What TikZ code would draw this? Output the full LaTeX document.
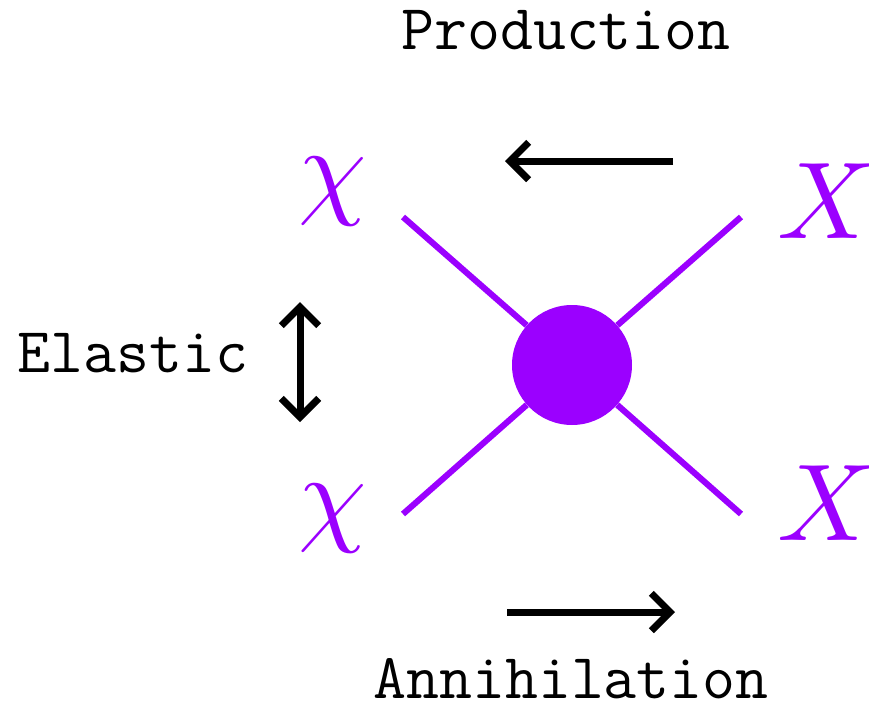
\documentclass[tikz,border=0pt]{standalone}
\usepackage{unicode-math}
\usepackage{tikz}
\usetikzlibrary{arrows.meta, positioning}
\definecolor{DMPurple}{HTML}{9B00FF}

\begin{document}
\begin{tikzpicture}[
    x=0.75pt, y=-0.75pt,
    label/.style={font=\ttfamily\fontsize{48}{56}\selectfont, inner sep=0pt, anchor=base},
    particle/.style={text=DMPurple, inner sep=0pt, anchor=base, font=\fontsize{82}{90}\selectfont},
    leg/.style={draw=DMPurple, line width=4.6pt},
    blob/.style={circle, fill=DMPurple, minimum size=90pt, inner sep=0pt},
    flow/.style={draw, line width=5.25pt, -{Straight Barb[length=14pt,width=28pt]}},
    both/.style={draw, line width=5.25pt, {Straight Barb[length=14pt,width=28pt]}-{Straight Barb[length=14pt,width=28pt]}}
]
    \useasboundingbox (0,0) rectangle (869,711);

    % Vertex
    \node[blob] (vertex) at (572,365) {};

    % Particles
    \node[particle] (chiup) at (333,204) {$\chi$};
    \node[particle] (chidown) at (333,531) {$\chi$};
    \node[particle] (xup) at (826,238) {$X$};
    \node[particle] (xdown) at (826,540) {$X$};

    % Leg ends
    \coordinate (legA) at (403,217);
    \coordinate (legB) at (741,217);
    \coordinate (legC) at (403,514);
    \coordinate (legD) at (741,514);

    \path[leg] (legA) -- (vertex);
    \path[leg] (legB) -- (vertex);
    \path[leg] (legC) -- (vertex);
    \path[leg] (legD) -- (vertex);

    % Processes
    \node[label] (production) at (566,49) {Production};
    \node[label] (annihilation) at (571,698) {Annihilation};
    \node[label] (elastic) at (133,372) {Elastic};

    \coordinate (prodfrom) at (673,161);
    \coordinate (prodto) at (505,161);
    \coordinate (annfrom) at (507,612);
    \coordinate (annto) at (675,612);
    \coordinate (elup) at (300,302);
    \coordinate (eldown) at (300,422);

    \path[flow] (prodfrom) -- (prodto);
    \path[flow] (annfrom) -- (annto);
    \path[both] (elup) -- (eldown);

\end{tikzpicture}
\end{document}
